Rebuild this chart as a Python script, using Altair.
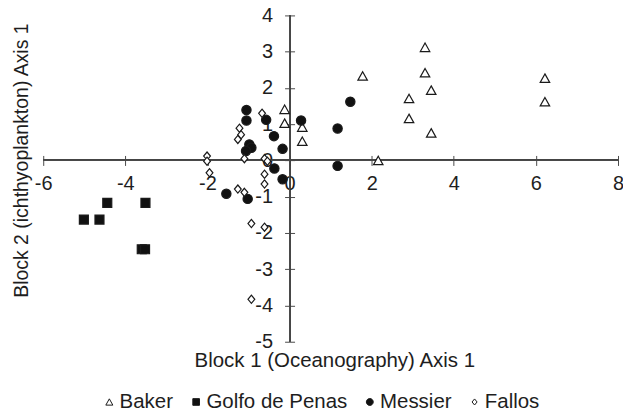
import altair as alt
import pandas as pd

# ---- data ----
sites = ["Baker", "Golfo de Penas", "Messier", "Fallos"]

baker_x = [3.30, 3.30, 3.45, 2.91, 2.91, 3.45, 6.22, 6.22, 1.78, 2.16, -0.12, -0.12, 0.31, 0.31]
baker_y = [3.12, 2.42, 1.94, 1.71, 1.16, 0.76, 2.27, 1.62, 2.33, 0.00, 1.41, 1.03, 0.92, 0.53]

golfo_x = [-4.44, -3.51, -5.01, -4.63, -3.60, -3.52]
golfo_y = [-1.17, -1.17, -1.63, -1.63, -2.45, -2.45]

messier_x = [-1.05, -1.05, -0.57, -0.38, -0.17, -0.98, -0.93, -1.06, 0.28, 1.48, 1.17, 1.17, -0.37, -0.17, -1.54, -1.02]
messier_y = [1.39, 1.10, 1.12, 0.67, 0.32, 0.44, 0.35, 0.26, 1.10, 1.62, 0.88, -0.15, -0.22, -0.52, -0.92, -1.06]

fallos_x = [-2.01, -2.01, -1.95, -0.67, -1.22, -1.18, -1.26, -1.10, -0.61, -0.54, -0.61, -0.61, -1.26, -1.10, -0.93, -0.61, -0.93]
fallos_y = [0.12, -0.02, -0.34, 1.30, 0.89, 0.71, 0.58, 0.05, 0.05, -0.02, -0.38, -0.65, -0.79, -0.88, -1.74, -1.84, -3.83]

x_ticks = [-6, -4, -2, 0, 2, 4, 6, 8]
y_ticks = [-5, -4, -3, -2, -1, 0, 1, 2, 3, 4]

rows = []
for name, xs, ys in [("Baker", baker_x, baker_y), ("Golfo de Penas", golfo_x, golfo_y),
                     ("Messier", messier_x, messier_y), ("Fallos", fallos_x, fallos_y)]:
    for a, b in zip(xs, ys):
        rows.append({"site": name, "x": a, "y": b})
df = pd.DataFrame(rows)

# ---- layout ----
W, H = 576, 327
TOP = 7
LEFT = 35.3
FONT = "Liberation Sans"
TXT = "#1e1e1e"
LINE = "#4a4a4a"
MARK = "#1a1a1a"
x0_from_left = W * 6 / 14      # pixel position of x = 0
y0_from_bottom = H * 5 / 9     # pixel position of y = 0
y0_from_top = H * 4 / 9
page_plot_left = 8 + LEFT
page_plot_top = 8 + TOP
page_line_y = page_plot_top + y0_from_top
page_line_x = page_plot_left + x0_from_left

xscale = alt.Scale(domain=[-6, 8], nice=False, zero=False)
yscale = alt.Scale(domain=[-5, 4], nice=False, zero=False)

xaxis = alt.Axis(values=x_ticks, orient="bottom", offset=-(y0_from_bottom + 5), domain=False,
                 grid=False, tickSize=10, tickColor=LINE, tickWidth=1, labelPadding=8,
                 labelFlush=False, labelOverlap=False, labelFontSize=20, labelFont=FONT,
                 labelColor=TXT, labelExpr="datum.value + ''",
                 title="Block 1 (Oceanography) Axis 1",
                 titleX=335 - page_plot_left, titleY=361 - (page_line_y - 5),
                 titleAlign="center", titleBaseline="middle", titleFontSize=20.5,
                 titleFontWeight="normal", titleFont=FONT, titleColor=TXT)
yaxis = alt.Axis(values=y_ticks, orient="left", offset=-(x0_from_left + 5), domain=False,
                 grid=False, tickSize=10, tickColor=LINE, tickWidth=1, labelPadding=12,
                 labelFlush=False, labelOverlap=False, labelFontSize=20, labelFont=FONT,
                 labelColor=TXT, labelExpr="datum.value + ''",
                 title="Block 2 (ichthyoplankton) Axis 1",
                 titleX=22 - (page_line_x + 5), titleY=160 - page_plot_top,
                 titleAngle=270, titleAlign="center", titleBaseline="middle",
                 titleFontSize=19.5, titleFontWeight="normal", titleFont=FONT, titleColor=TXT)

# symbol outlines drawn in a unit box; one common size scales them all
tri = "M0,-0.85L0.95,0.85L-0.95,0.85Z"
sq = "M-0.9,-0.9L0.9,-0.9L0.9,0.9L-0.9,0.9Z"
circ = "M-0.93,0A0.93,0.93 0 1,0 0.93,0A0.93,0.93 0 1,0 -0.93,0Z"
dia = "M0,-0.82L0.68,0L0,0.82L-0.68,0Z"
shapes = [tri, sq, circ, dia]
fills = ["white", "#111111", "#111111", "white"]
strokes = [MARK, MARK, MARK, MARK]

legend = alt.Legend(orient="none", legendX=107 - page_plot_left - 7.7, legendY=392 - page_plot_top,
                    direction="horizontal",
                    title=None, labelFontSize=20.5, labelFont=FONT, labelColor=TXT,
                    symbolSize=55, symbolStrokeWidth=1,
                    labelOffset=0, columnPadding=12, padding=0)

hrule = alt.Chart(df).mark_rule(color=LINE, strokeWidth=1).encode(
    y=alt.YDatum(0, scale=yscale, axis=yaxis)
)
vrule = alt.Chart(df).mark_rule(color=LINE, strokeWidth=1).encode(
    x=alt.XDatum(0, scale=xscale, axis=xaxis)
)

points = alt.Chart(df).mark_point(filled=False, opacity=1, size=100, strokeWidth=1.2).encode(
    x=alt.X("x:Q", scale=xscale, axis=xaxis),
    y=alt.Y("y:Q", scale=yscale, axis=yaxis),
    shape=alt.Shape("site:N", scale=alt.Scale(domain=sites, range=shapes), legend=legend),
    fill=alt.Fill("site:N", scale=alt.Scale(domain=sites, range=fills), legend=legend),
    stroke=alt.Stroke("site:N", scale=alt.Scale(domain=sites, range=strokes), legend=legend),
)

chart = alt.layer(hrule, vrule, points).properties(
    width=W, height=H,
    autosize=alt.AutoSizeParams(type="none"),
    padding={"left": LEFT, "top": TOP, "right": 5, "bottom": 76},
    background="white",
).configure_view(stroke="transparent")

chart.save("out.html", embed_options={"renderer": "svg", "actions": False})
